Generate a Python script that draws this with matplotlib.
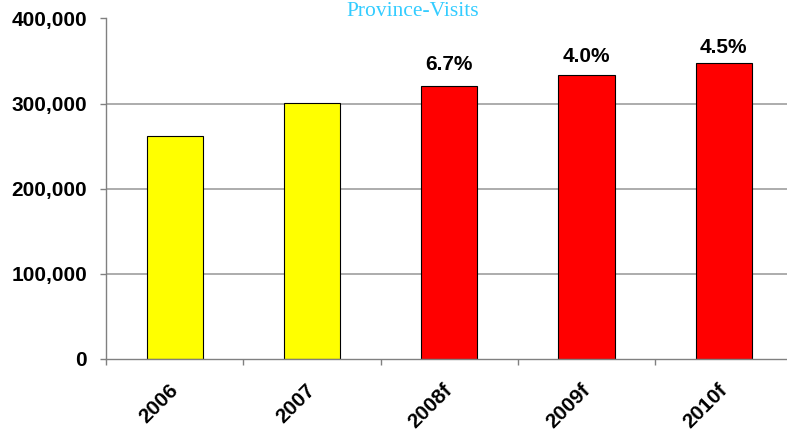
import matplotlib
matplotlib.use("Agg")
import matplotlib.pyplot as plt
import matplotlib.transforms as mtransforms
from matplotlib.ticker import FuncFormatter, FixedLocator

# Visits by year (actuals and forecasts)
years = ["2006", "2007", "2008f", "2009f", "2010f"]
visits = [261600, 300300, 320400, 333200, 348200]
bar_colors = ["#FFFF00", "#FFFF00", "#FF0000", "#FF0000", "#FF0000"]

# Growth labels shown above the forecast bars
growth_labels = ["", "", "6.7%", "4.0%", "4.5%"]

y_ticks = [0, 100000, 200000, 300000, 400000]

W, H, DPI = 787, 433, 100
fig = plt.figure(figsize=(W / DPI, H / DPI), dpi=DPI)
fig.patch.set_facecolor("white")

left_px, right_px = 106, 792.5
top_px, zero_px = 18.5, 359
ax = fig.add_axes([left_px / W, 1 - zero_px / H,
                   (right_px - left_px) / W, (zero_px - top_px) / H])

x = list(range(len(years)))
ax.bar(x, visits, width=0.41, color=bar_colors, edgecolor="black",
       linewidth=0.8, zorder=3)

ax.set_xlim(-0.5, len(years) - 0.5)
ax.set_ylim(0, 400000)

# Gridlines
for v in y_ticks[1:]:
    ax.axhline(v, color="#E2E2E2" if v == 400000 else "#A6A6A6",
               linewidth=1.3, zorder=1)

for side in ("top", "right"):
    ax.spines[side].set_visible(False)
for side in ("left", "bottom"):
    ax.spines[side].set_color("#808080")
    ax.spines[side].set_linewidth(1.0)
ax.spines["bottom"].set_zorder(4)

label_font = dict(family="Liberation Sans", weight="bold", size=15)

ax.yaxis.set_major_locator(FixedLocator(y_ticks))
ax.yaxis.set_major_formatter(FuncFormatter(lambda v, p: f"{int(v):,}"))
ax.tick_params(axis="y", direction="out", length=4.5, width=1.0,
               color="#808080", pad=9)
for t in ax.get_yticklabels():
    t.set_fontfamily(label_font["family"])
    t.set_fontweight("bold")
    t.set_fontsize(label_font["size"])

# Category ticks sit between bars; labels under bar centres
ax.set_xticks(x)
ax.set_xticklabels(years)
ax.set_xticks([i - 0.5 for i in range(len(years) + 1)], minor=True)
ax.tick_params(axis="x", which="major", length=0, pad=15.5)
ax.tick_params(axis="x", which="minor", direction="out", length=4.5,
               width=1.0, color="#808080")
shift = mtransforms.ScaledTranslation(7 / DPI, 0, fig.dpi_scale_trans)
for t in ax.get_xticklabels():
    t.set_rotation(45)
    t.set_ha("right")
    t.set_va("top")
    t.set_fontfamily(label_font["family"])
    t.set_fontweight("bold")
    t.set_fontsize(label_font["size"])
    t.set_transform(t.get_transform() + shift)

# Growth rate labels above bars
label_gap_pt = [0, 0, 11.5, 9.5, 7.0]
for i, (v, lab) in enumerate(zip(visits, growth_labels)):
    if lab:
        ax.annotate(lab, (i, v), xytext=(0, label_gap_pt[i]),
                    textcoords="offset points", ha="center", va="baseline",
                    fontfamily=label_font["family"], fontweight="bold",
                    fontsize=label_font["size"], zorder=5)

fig.text(413 / W, 1 - 15.5 / H, "Province-Visits", ha="center",
         va="baseline", fontfamily="Liberation Serif", fontsize=15.5,
         color="#33CCFF")

fig.savefig("out.png", dpi=DPI, facecolor="white")
